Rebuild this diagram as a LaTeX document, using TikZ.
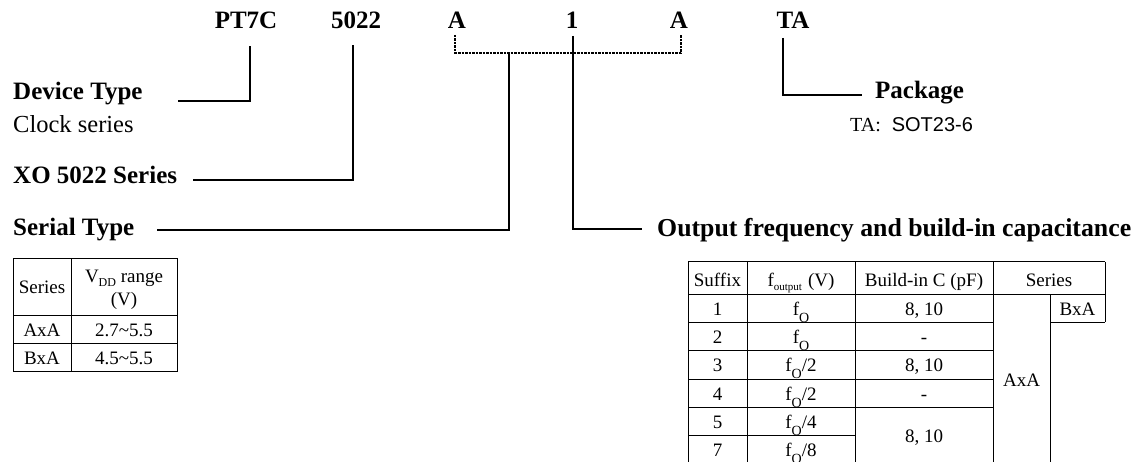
\documentclass[tikz,border=0pt]{standalone}
\usepackage{fontspec}
\setmainfont{Liberation Serif}
\newfontfamily\arialfont{Liberation Sans}
\newcommand{\fsubO}{f\raisebox{-7pt}{\fontsize{14}{14}\selectfont O}}
\begin{document}
\begin{tikzpicture}[x=1pt,y=-1pt,
  lbl/.style={font=\fontsize{25}{28}\selectfont\bfseries, inner sep=0pt},
  reg/.style={font=\fontsize{24.5}{28}\selectfont, inner sep=0pt},
  cell/.style={font=\fontsize{19}{22}\selectfont, inner sep=0pt, anchor=base},
  conn/.style={line width=1.8pt},
  bracketline/.style={line width=1.7pt, dash pattern=on 2.5pt off 1pt},
  grid/.style={line width=1pt}]
\useasboundingbox (0,0) rectangle (1137,462);
\fill[white] (0,0) rectangle (1137,462);

% part number
\node[lbl,anchor=base] (pt7c) at (246,29) {PT7C};
\node[lbl,anchor=base] (num) at (356,29) {5022};
\node[lbl,anchor=base] (a1) at (457,29) {A};
\node[lbl,anchor=base] (one) at (572,29) {1};
\node[lbl,anchor=base] (a2) at (679,29) {A};
\node[lbl,anchor=base] (ta) at (793,29) {TA};

% labels
\node[lbl,anchor=base west] (dev) at (13,100) {Device Type};
\node[reg,anchor=base west] (clock) at (13,133) {Clock series};
\node[lbl,anchor=base west] (xo) at (13,184) {XO 5022 Series};
\node[lbl,anchor=base west] (ser) at (13,236) {Serial Type};
\node[lbl,anchor=base west,font=\fontsize{25.8}{28}\selectfont\bfseries] (out) at (657,237) {Output frequency and build-in capacitance};
\node[lbl,anchor=base west] (pkg) at (875,99) {Package};
\node[anchor=base west, inner sep=0pt, font=\fontsize{20}{22}\selectfont] (taval) at (850,132) {TA:\hspace{11pt}{\arialfont SOT23-6}};

% connector points
\coordinate (devL) at (178,101); \coordinate (devC) at (250,101); \coordinate (devT) at (250,46);
\coordinate (xoL) at (193,180); \coordinate (xoC) at (353,180); \coordinate (xoT) at (353,45);
\coordinate (serL) at (157,230); \coordinate (serC) at (509,230); \coordinate (serT) at (509,53);
\coordinate (oneT) at (573,36); \coordinate (oneC) at (573,229); \coordinate (oneR) at (642,229);
\coordinate (taT) at (783,38); \coordinate (taC) at (783,95); \coordinate (taR) at (862,95);
\coordinate (bLT) at (455,35); \coordinate (bLB) at (455,53); \coordinate (bRB) at (681,53); \coordinate (bRT) at (681,35);

\draw[conn] (devL) -- (devC) -- (devT);
\draw[conn] (xoL) -- (xoC) -- (xoT);
\draw[conn] (serL) -- (serC) -- (serT);
\draw[conn] (oneT) -- (oneC) -- (oneR);
\draw[conn] (taT) -- (taC) -- (taR);
\draw[bracketline] (bLT) -- (bLB) -- (bRB) -- (bRT);

% left table
\draw[grid] (13,259) rectangle (177,371);
\draw[grid] (71,259) -- (71,371);
\draw[grid] (13,315) -- (177,315);
\draw[grid] (13,343) -- (177,343);
\node[cell] (lt1) at (42,293) {Series};
\node[cell] (lt2) at (124,282) {V\raisebox{-5pt}{\fontsize{12}{12}\selectfont DD} range};
\node[cell] (lt3) at (124,305) {(V)};
\node[cell] (lt4) at (42,336) {AxA};
\node[cell] (lt5) at (124,336) {2.7\textasciitilde5.5};
\node[cell] (lt6) at (42,364) {BxA};
\node[cell] (lt7) at (124,364) {4.5\textasciitilde5.5};

% right table
\draw[grid] (688,262) -- (1105,262);
\draw[grid] (688,294) -- (1105,294);
\draw[grid] (688,262) -- (688,464);
\draw[grid] (747,262) -- (747,464);
\draw[grid] (855,262) -- (855,464);
\draw[grid] (993,262) -- (993,464);
\draw[grid] (1105,262) -- (1105,322.3);
\draw[grid] (1050,294) -- (1050,464);
\draw[grid] (1050,322.3) -- (1105,322.3);
\foreach \yy in {322.3,350.7,379,407.3} \draw[grid] (688,\yy) -- (993,\yy);
\draw[grid] (688,435.7) -- (855,435.7);
\draw[grid] (688,464) -- (1050,464);

\node[cell] (h1) at (717.5,286) {Suffix};
\node[cell] (h2) at (801,286) {f\raisebox{-5pt}{\fontsize{11}{11}\selectfont output}\hspace{6pt}(V)};
\node[cell] (h3) at (924,286) {Build-in C (pF)};
\node[cell] (h4) at (1049,286) {Series};

\node[cell] (s1) at (717.5,315) {1};
\node[cell] (s2) at (717.5,343.3) {2};
\node[cell] (s3) at (717.5,371.7) {3};
\node[cell] (s4) at (717.5,400) {4};
\node[cell] (s5) at (717.5,428.3) {5};
\node[cell] (s7) at (717.5,456.7) {7};

\node[cell] (f1) at (801,315) {\fsubO};
\node[cell] (f2) at (801,343.3) {\fsubO};
\node[cell] (f3) at (801,371.7) {\fsubO/2};
\node[cell] (f4) at (801,400) {\fsubO/2};
\node[cell] (f5) at (801,428.3) {\fsubO/4};
\node[cell] (f7) at (801,456.7) {\fsubO/8};

\node[cell] (c1) at (924,315) {8, 10};
\node[cell] (c2) at (924,343.3) {-};
\node[cell] (c3) at (924,371.7) {8, 10};
\node[cell] (c4) at (924,400) {-};
\node[cell] (c5) at (924,442) {8, 10};

\node[cell] (axa) at (1021.5,386) {AxA};
\node[cell] (bxa) at (1077.5,315) {BxA};
\end{tikzpicture}
\end{document}
